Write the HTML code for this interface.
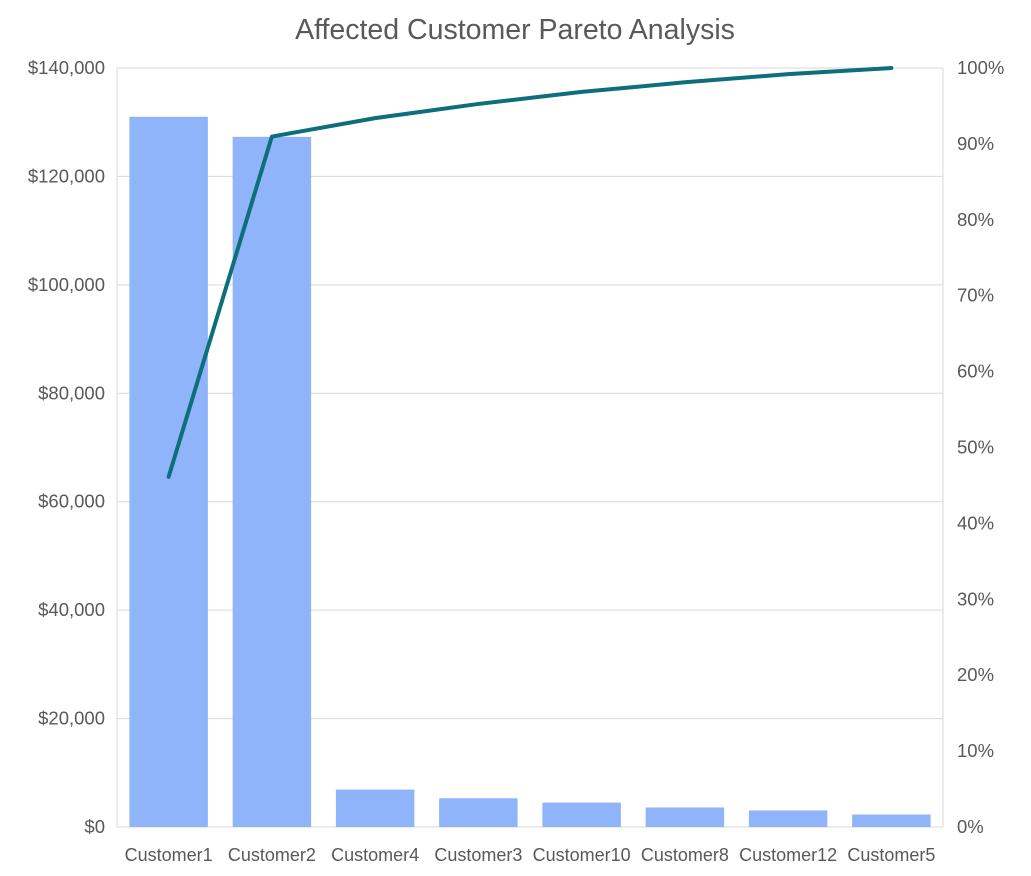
<!DOCTYPE html>
<html><head><meta charset="utf-8"><style>
body{margin:0;background:#fff;}
svg{display:block;font-family:"Liberation Sans",Arial,sans-serif;}
</style></head><body>
<svg id="chart" width="1031" height="876" viewBox="0 0 1031 876">
<rect x="0" y="0" width="1031" height="876" fill="#fff"/>
<text x="515" y="39" text-anchor="middle" font-size="28.5" fill="#595959">Affected Customer Pareto Analysis</text>
<g id="grid"></g>
<g id="bars"></g>
<g id="line"></g>
<g id="yleft"></g>
<g id="yright"></g>
<g id="xaxis"></g>
</svg>
<script>
const categories=["Customer1","Customer2","Customer4","Customer3","Customer10","Customer8","Customer12","Customer5"];
const values=[131000,127300,6900,5300,4500,3600,3050,2300];
const leftTicks=[0,20000,40000,60000,80000,100000,120000,140000];
const rightTicks=[0,10,20,30,40,50,60,70,80,90,100];
const X0=117,X1=943,Y0=827,Y1=68,LMAX=140000;
const NS="http://www.w3.org/2000/svg";
function el(t,a,p){const e=document.createElementNS(NS,t);for(const k in a)e.setAttribute(k,a[k]);document.getElementById(p).appendChild(e);return e;}
const yL=v=>Y0-(v/LMAX)*(Y0-Y1);
const yR=p=>Y0-(p/100)*(Y0-Y1);
const band=(X1-X0)/categories.length;
const xC=i=>X0+band*(i+0.5);
leftTicks.forEach(v=>{
  const g=el('line',{x1:X0,x2:X1,y1:yL(v),y2:yL(v),stroke:'#d9d9d9','stroke-width':1},'grid');
  
  
  const t=el('text',{x:X0-12,y:yL(v)+6,'text-anchor':'end','font-size':18.5,fill:'#595959'},'yleft');
  t.textContent='$'+v.toLocaleString('en-US');
  
  
});
[X0,X1].forEach(x=>{
  const b=el('line',{x1:x,x2:x,y1:Y1,y2:Y0,stroke:'#d9d9d9','stroke-width':1},'grid');
  
  
});
rightTicks.forEach(p=>{
  const t=el('text',{x:X1+14,y:yR(p)+6,'text-anchor':'start','font-size':18.5,fill:'#595959'},'yright');
  t.textContent=p+'%';
  
  
});
const bw=band*0.76;
values.forEach((v,i)=>{
  const r=el('rect',{x:xC(i)-bw/2,y:yL(v),width:bw,height:Y0-yL(v),fill:'#8fb4fa'},'bars');
  
  
  const t=el('text',{x:xC(i),y:861,'text-anchor':'middle','font-size':18,fill:'#595959'},'xaxis');
  t.textContent=categories[i];
  
  
});
const total=values.reduce((a,b)=>a+b,0);
let c=0;const pts=values.map((v,i)=>{c+=v;return xC(i)+','+yR(c/total*100);});
const pl=el('polyline',{points:pts.join(' '),fill:'none',stroke:'#0d6f7c','stroke-width':4,'stroke-linejoin':'round','stroke-linecap':'round'},'line');


</script>
</body></html>
